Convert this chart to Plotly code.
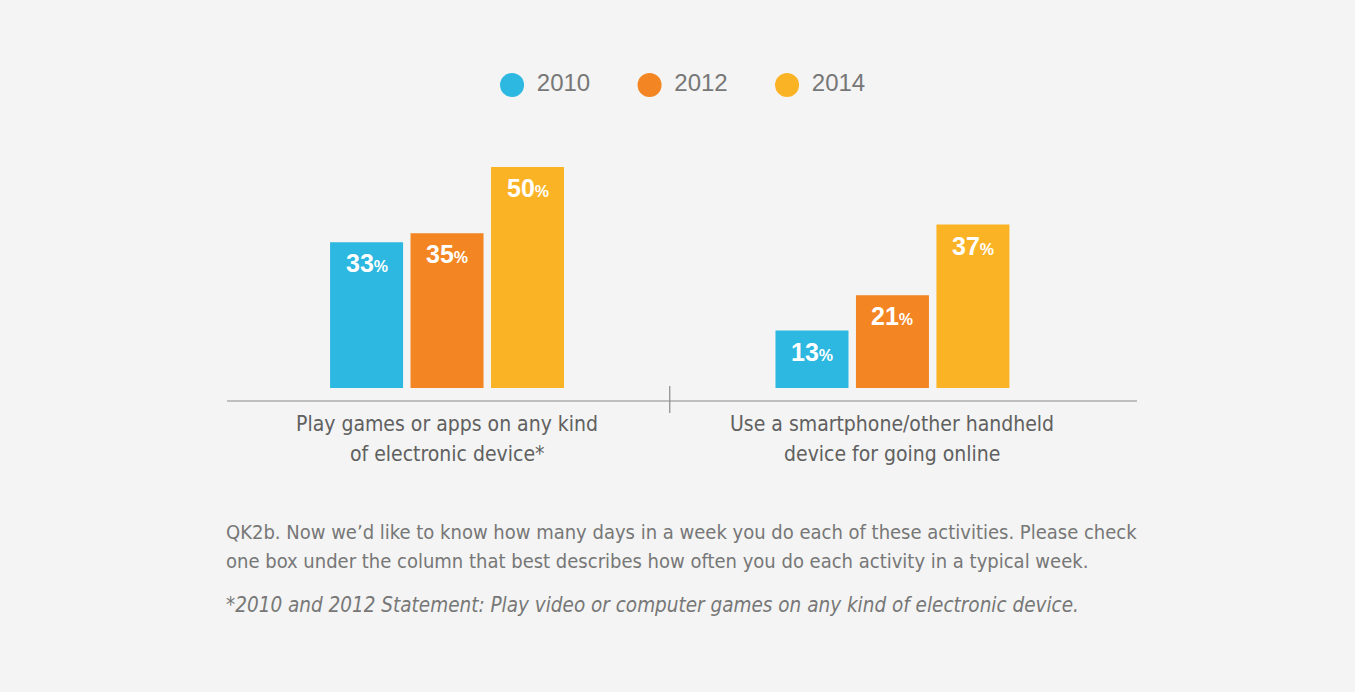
import plotly.graph_objects as go

# ---- data ----
categories = ["Play games or apps on any kind<br>of electronic device*",
              "Use a smartphone/other handheld<br>device for going online"]
years = ["2010", "2012", "2014"]
values_2010 = [33, 13]
values_2012 = [35, 21]
values_2014 = [50, 37]
series_values = [values_2010, values_2012, values_2014]
colors = ["#2cb8e0", "#f38522", "#fbb326"]
footnote_1 = "QK2b. Now we\u2019d like to know how many days in a week you do each of these activities. Please check"
footnote_2 = "one box under the column that best describes how often you do each activity in a typical week."
footnote_3 = "*2010 and 2012 Statement: Play video or computer games on any kind of electronic device."

BG = "#f3f4f3"
NARROW = "Liberation Sans Narrow, DejaVu Sans Condensed, Arial Narrow, sans-serif"

W, H = 1355, 692
ML, MR, MT, MB = 227, 218, 60, 304
plot_h = H - MT - MB
bar_area_h = 243

bargap = 0.458
bargroupgap = 0.093
slot = (1 - bargap) / len(years)

fig = go.Figure()
xpos = list(range(len(categories)))
for yr, vals, col in zip(years, series_values, colors):
    fig.add_trace(go.Bar(x=xpos, y=vals, name=yr, marker=dict(color=col, line=dict(width=0)),
                         showlegend=False, hoverinfo="skip"))

# value labels inside bars
annotations = []
for j, vals in enumerate(series_values):
    for i, v in enumerate(vals):
        annotations.append(dict(
            x=i + (j - (len(years) - 1) / 2) * slot, y=v, xref="x", yref="y",
            text=f"<b>{v}</b><span style='font-size:16px'><b>%</b></span>",
            showarrow=False, yanchor="middle", yshift=-21,
            font=dict(family="Liberation Sans, Arial, sans-serif", size=25, color="white")))

# category labels (one annotation per line)
for i, c in enumerate(categories):
    for k, line in enumerate(c.split("<br>")):
        annotations.append(dict(
            x=i, y=(388 - (424 + 30 * k)) / plot_h, xref="x", yref="paper", text=line,
            showarrow=False, yanchor="middle", xanchor="center", align="center",
            font=dict(family=NARROW, size=21, color="#606060")))

# footnotes
for txt, ypx, italic, fs in [(footnote_1, 532, False, 20), (footnote_2, 561, False, 20),
                             (footnote_3, 605, True, 20.5)]:
    annotations.append(dict(
        x=0, y=(388 - ypx) / plot_h, xref="paper", yref="paper",
        text=f"<i>{txt}</i>" if italic else txt, showarrow=False,
        xanchor="left", yanchor="middle", xshift=-3,
        font=dict(family=NARROW, size=fs, color="#777777")))

# custom legend with large circles
legend_x = list(range(len(years)))
fig.add_trace(go.Scatter(
    x=legend_x, y=[0] * len(years), xaxis="x2", yaxis="y2",
    mode="markers", marker=dict(size=24, color=colors, line=dict(width=0)),
    showlegend=False, hoverinfo="skip", cliponaxis=False))
fig.add_trace(go.Scatter(
    x=legend_x, y=[0] * len(years), xaxis="x2", yaxis="y2",
    mode="markers+text", text=years, textposition="middle right",
    marker=dict(size=38, color=colors, opacity=0),
    textfont=dict(family="Liberation Sans, Arial, sans-serif", size=24, color="#777777"),
    showlegend=False, hoverinfo="skip", cliponaxis=False))

shapes = [
    dict(type="line", xref="paper", yref="paper", x0=0, x1=1,
         y0=-13 / plot_h, y1=-13 / plot_h, line=dict(color="#8a8a8a", width=1.2)),
    dict(type="line", xref="x", yref="paper", x0=0.5, x1=0.5,
         y0=2 / plot_h, y1=-25 / plot_h, line=dict(color="#8a8a8a", width=1.2)),
]

fig.update_layout(
    width=W, height=H,
    margin=dict(l=ML, r=MR, t=MT, b=MB, pad=0),
    paper_bgcolor=BG, plot_bgcolor=BG,
    barmode="group", bargap=bargap, bargroupgap=bargroupgap,
    xaxis=dict(range=[-0.494, 1.549], visible=False, fixedrange=True),
    yaxis=dict(range=[0, 55], domain=[0, bar_area_h / plot_h], visible=False),
    xaxis2=dict(range=[-2.073, 4.545], domain=[0, 1], anchor="y2", visible=False),
    yaxis2=dict(range=[-1, 1], domain=[0.874, 0.974], anchor="x2", visible=False),
    annotations=annotations, shapes=shapes, showlegend=False,
)

fig.write_html(
    "out.html",
    config={"displayModeBar": False},
    post_script="document.body.style.margin='0';document.body.style.background='%s';"
                "document.documentElement.style.background='%s';" % (BG, BG),
)
